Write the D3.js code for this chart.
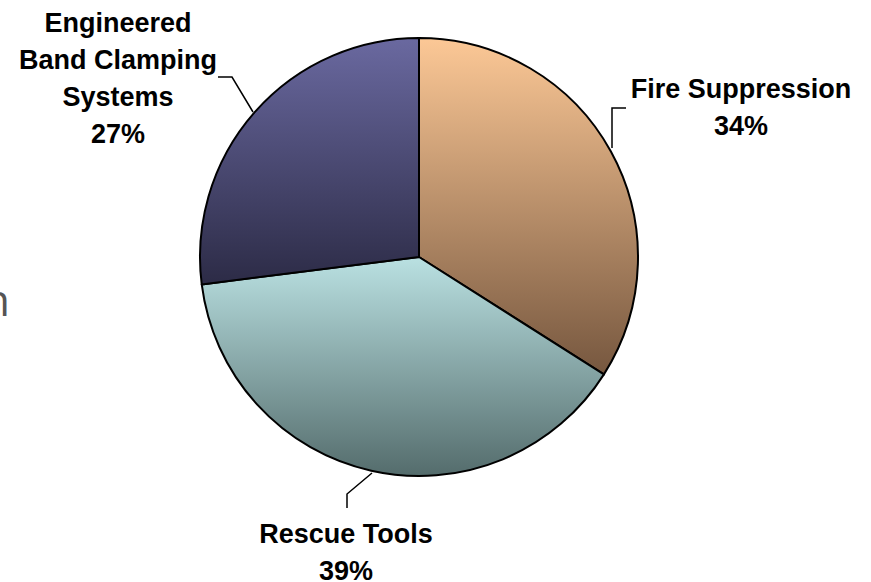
<!DOCTYPE html>
<html>
<head>
  <meta charset='utf-8'>
  <title>Pie chart</title>
  <script src="https://cdn.jsdelivr.net/npm/d3@7"></script>
  <style>
    body { margin: 0; background: #fff; }
    text { font-family: "Liberation Sans", Arial, sans-serif; }
  </style>
</head>
<body>
  <svg width="871" height="582" id="chart"></svg>
  <script>
    // chart values
    const categories = ["Fire Suppression", "Rescue Tools", "Engineered Band Clamping Systems"];
    const values = [34, 39, 27];
    const labelLines = [["Fire Suppression"], ["Rescue Tools"], ["Engineered", "Band Clamping", "Systems"]];
    const topColors = ["#fcc896", "#bae1e2", "#6a69a0"];
    const bottomColors = ["#76573f", "#546c6c", "#2c2b46"];

    const svg = d3.select('#chart');
    const cx = 419, cy = 257, radius = 219;

    const defs = svg.append('defs');
    categories.forEach((c, i) => {
      const g = defs.append('linearGradient')
        .attr('id', 'grad' + i)
        .attr('x1', 0).attr('y1', 0).attr('x2', 0).attr('y2', 1);
      g.append('stop').attr('offset', '0%').attr('stop-color', topColors[i]);
      g.append('stop').attr('offset', '100%').attr('stop-color', bottomColors[i]);
    });

    // stray text fragment at the left edge
    svg.append('text')
      .attr('x', 10).attr('y', 316)
      .attr('text-anchor', 'end')
      .style('font-family', '"Open Sans", sans-serif')
      .style('font-size', '44px')
      .style('fill', '#555')
      .text('n');

    const pie = d3.pie().sort(null).value(d => d.value);
    const arc = d3.arc().innerRadius(0).outerRadius(radius);
    const data = pie(categories.map((c, i) => ({ name: c, value: values[i], idx: i })));

    const g = svg.append('g').attr('transform', `translate(${cx},${cy})`);
    g.selectAll('path')
      .data(data)
      .join('path')
      .attr('d', arc)
      .attr('fill', d => `url(#grad${d.data.idx})`)
      .attr('stroke', '#000')
      .attr('stroke-width', 2)
      .attr('stroke-linejoin', 'round');

    // leader lines
    const leaders = [
      [[626, 108], [612, 108], [612, 148]],
      [[347, 508], [347, 494], [372, 473]],
      [[218, 77], [232, 77], [253, 112]]
    ];
    svg.selectAll('.leader')
      .data(leaders)
      .join('polyline')
      .classed('leader', true)
      .attr('points', d => d.map(p => p.join(',')).join(' '))
      .attr('fill', 'none')
      .attr('stroke', '#000')
      .attr('stroke-width', 1.5);

    const labelPos = [[741, 98], [346, 543], [118, 32]];
    const lineH = 37;
    data.forEach((d, i) => {
      const lines = labelLines[i].concat([values[i] + '%']);
      const t = svg.append('text')
        .attr('text-anchor', 'middle')
        .style('font-size', '27px')
        .style('font-weight', 'bold')
        .style('fill', '#000');
      lines.forEach((l, k) => {
        t.append('tspan')
          .attr('x', labelPos[i][0])
          .attr('y', labelPos[i][1] + k * lineH)
          .text(l);
      });
    });
  </script>
</body>
</html>
